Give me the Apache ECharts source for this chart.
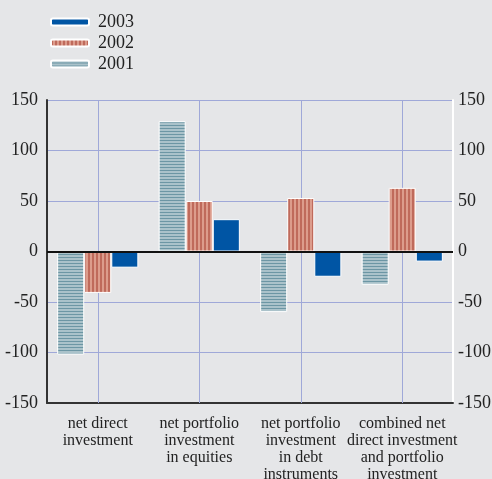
<!DOCTYPE html>
<html lang="en">
<head>
    <meta charset="UTF-8">
    <title>Net investment flows</title>
</head>
<body style="margin:0;background:#e5e6e8;">
<div id="flows" style="width:492px;height:479px;"></div>
<script src="https://cdn.jsdelivr.net/npm/echarts@6/dist/echarts.min.js"></script>
<script type="text/javascript">
    var categories = [
        'net direct\ninvestment',
        'net portfolio\ninvestment\nin equities',
        'net portfolio\ninvestment\nin debt\ninstruments',
        'combined net\ndirect investment\nand portfolio\ninvestment'
    ];
    var values2001 = [-102, 129, -60, -33];
    var values2002 = [-41, 50, 53, 63];
    var values2003 = [-16, 32, -25, -10];
    var yTicks = [-150, -100, -50, 0, 50, 100, 150];

    // striped fills for the hatched bars
    function stripes(horizontal, light, dark) {
        var c = document.createElement('canvas');
        c.width = 4;
        c.height = horizontal ? 3 : 4;
        var ctx = c.getContext('2d');
        ctx.fillStyle = light;
        ctx.fillRect(0, 0, c.width, c.height);
        ctx.fillStyle = dark;
        if (horizontal) {
            ctx.fillRect(0, 2, 4, 1);
        } else {
            ctx.fillRect(0, 0, 2, 4);
        }
        return {image: c, repeat: 'repeat'};
    }
    var fill2001 = stripes(true, '#aac2ca', '#6c96a4');
    var fill2002 = stripes(false, '#dc9c8c', '#bf6a5b');

    // vertical grid lines sit on the category centres (middle bar = 2002)
    var centreLines = categories.map(function (c) { return {xAxis: c}; });

    var serif = 'Liberation Serif';
    var chart = echarts.init(document.getElementById('flows'));
    var option = {
        backgroundColor: '#e5e6e8',
        animation: false,
        legend: {
            orient: 'vertical',
            left: 45,
            top: 8,
            itemWidth: 38,
            itemHeight: 7,
            itemGap: 3,
            data: ['2003', '2002', '2001'],
            textStyle: {fontFamily: serif, fontSize: 18, color: '#222', padding: [0, 0, 0, 4]}
        },
        grid: {left: 47, right: 39, top: 100, bottom: 76, containLabel: false, outerBoundsMode: 'none'},
        xAxis: {
            type: 'category',
            data: categories,
            axisLine: {onZero: false, lineStyle: {color: '#333', width: 2}},
            axisTick: {alignWithLabel: true, length: 4, lineStyle: {color: '#333'}},
            axisLabel: {fontFamily: serif, fontSize: 16, lineHeight: 17, color: '#222', margin: 12, interval: 0},
            splitLine: {show: false}
        },
        yAxis: [
            {
                type: 'value', min: -150, max: 150, interval: 50,
                axisLine: {show: true, lineStyle: {color: '#333', width: 2}},
                axisTick: {show: false},
                axisLabel: {fontFamily: serif, fontSize: 18, color: '#222', margin: 9},
                splitLine: {lineStyle: {color: '#9fa8d8', width: 1}}
            },
            {
                type: 'value', min: -150, max: 150, interval: 50, position: 'right',
                axisLine: {show: true, lineStyle: {color: '#ffffff', width: 2}},
                axisTick: {show: false},
                axisLabel: {fontFamily: serif, fontSize: 18, color: '#222', margin: 5},
                splitLine: {show: false}
            }
        ],
        series: [
            {
                name: '2001', type: 'bar', data: values2001,
                barGap: '0%', barCategoryGap: '20%',
                itemStyle: {color: fill2001, borderColor: '#ffffff', borderWidth: 1}
            },
            {
                name: '2002', type: 'bar', data: values2002,
                itemStyle: {color: fill2002, borderColor: '#ffffff', borderWidth: 1},
                markLine: {
                    silent: true, symbol: 'none', label: {show: false}, z: 1,
                    lineStyle: {color: '#9fa8d8', width: 1, type: 'solid'},
                    data: centreLines
                }
            },
            {
                name: '2003', type: 'bar', data: values2003,
                itemStyle: {color: '#0055a4', borderColor: '#ffffff', borderWidth: 1},
                markLine: {
                    silent: true, symbol: 'none', label: {show: false},
                    lineStyle: {color: '#111', width: 2, type: 'solid'},
                    data: [{yAxis: yTicks[3]}]
                }
            }
        ]
    };
    chart.setOption(option);
</script>
</body>
</html>
